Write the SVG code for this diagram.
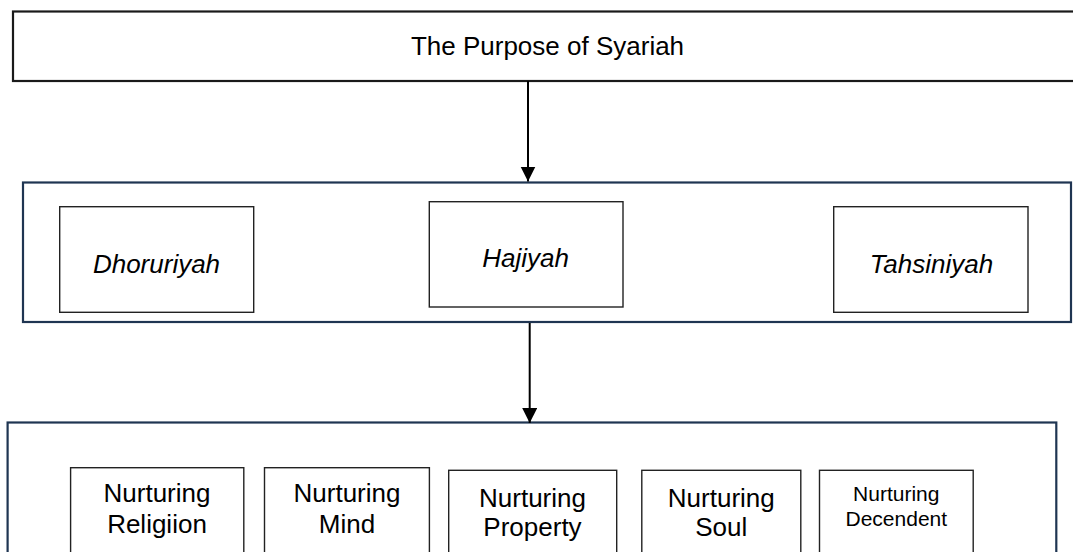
<svg xmlns="http://www.w3.org/2000/svg" width="1073" height="552" viewBox="0 0 1073 552">
  <style>
    .bg { fill: #ffffff; }
    .top { fill: #ffffff; stroke: #1a1a1a; stroke-width: 2.2; }
    .group { fill: #ffffff; stroke: #1f3552; stroke-width: 2.2; }
    .box { fill: #ffffff; stroke: #222222; stroke-width: 1.4; }
    .t { font-family: "Liberation Sans", Arial, sans-serif; font-size: 26px; fill: #000000; text-anchor: middle; }
    .it { font-style: italic; }
    .sm { font-size: 21px; }
    .conn { stroke: #000000; stroke-width: 2; fill: none; }
  </style>
  <defs>
    <marker id="arrow" markerUnits="userSpaceOnUse" markerWidth="16" markerHeight="16" refX="15" refY="7.5" orient="auto">
      <path d="M0,0 L15,7.5 L0,15 Z" fill="#000000"/>
    </marker>
  </defs>
  <rect class="bg" x="0" y="0" width="1073" height="552"/>

  <g id="purpose">
    <rect class="top" x="13" y="11.5" width="1075" height="69.5"/>
    <text class="t" x="547.5" y="55">The Purpose of Syariah</text>
  </g>

  <g id="levels">
    <rect class="group" x="23" y="182.5" width="1048" height="139.5"/>
  </g>
  <g id="dhoruriyah">
    <rect class="box" x="59.7" y="206.7" width="194" height="105.6"/>
    <text class="t it" x="156.5" y="272.7">Dhoruriyah</text>
  </g>
  <g id="hajiyah">
    <rect class="box" x="429.3" y="201.7" width="193.7" height="105.3"/>
    <text class="t it" x="525.5" y="267.3">Hajiyah</text>
  </g>
  <g id="tahsiniyah">
    <rect class="box" x="833.7" y="206.7" width="194.3" height="105.6"/>
    <text class="t it" x="931.5" y="272.7">Tahsiniyah</text>
  </g>

  <g id="nurturing">
    <rect class="group" x="7.6" y="422.5" width="1048.7" height="150"/>
  </g>
  <g id="religion">
    <rect class="box" x="70.6" y="467.7" width="173.2" height="100"/>
    <text class="t" x="157" y="502">Nurturing</text>
    <text class="t" x="157" y="532.5">Religiion</text>
  </g>
  <g id="mind">
    <rect class="box" x="264.5" y="467.7" width="164.9" height="100"/>
    <text class="t" x="347" y="502">Nurturing</text>
    <text class="t" x="347" y="532.5">Mind</text>
  </g>
  <g id="property">
    <rect class="box" x="448.7" y="470.3" width="168" height="100"/>
    <text class="t" x="532.5" y="506.5">Nurturing</text>
    <text class="t" x="532.5" y="535.7">Property</text>
  </g>
  <g id="soul">
    <rect class="box" x="641.8" y="470.3" width="159" height="100"/>
    <text class="t" x="721.3" y="506.5">Nurturing</text>
    <text class="t" x="721.3" y="535.7">Soul</text>
  </g>
  <g id="decendent">
    <rect class="box" x="819.5" y="470.3" width="153.7" height="100"/>
    <text class="t sm" x="896.3" y="500.7">Nurturing</text>
    <text class="t sm" x="896.3" y="526">Decendent</text>
  </g>

  <g id="connectors">
    <line class="conn" x1="528" y1="81" x2="528" y2="181.5" marker-end="url(#arrow)"/>
    <line class="conn" x1="529.7" y1="323" x2="529.7" y2="423" marker-end="url(#arrow)"/>
  </g>
</svg>
